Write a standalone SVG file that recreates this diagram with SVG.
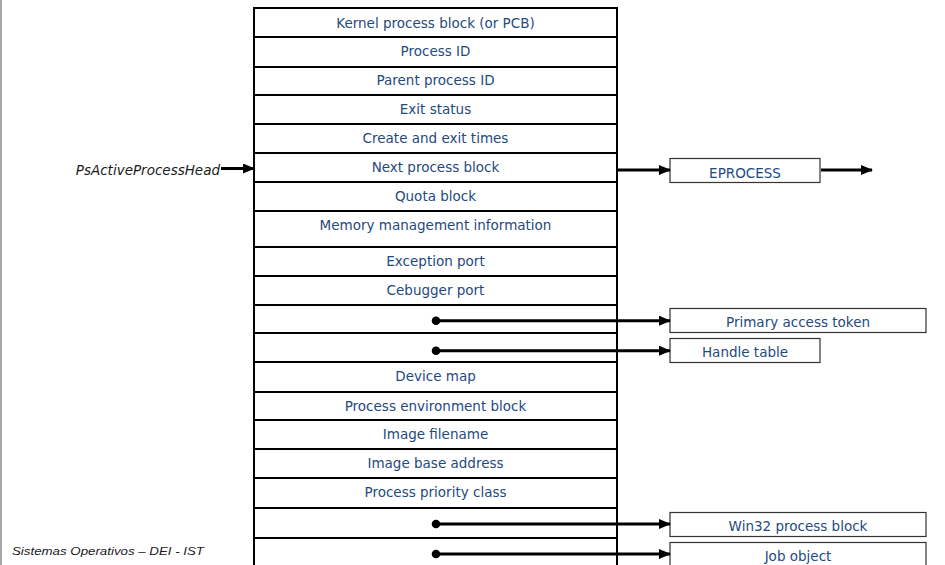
<svg xmlns="http://www.w3.org/2000/svg" width="945" height="565" viewBox="0 0 945 565">
  <defs>
    <marker id="arrow" markerUnits="userSpaceOnUse" markerWidth="12" markerHeight="10" refX="11" refY="5" orient="auto">
      <path d="M0,0 L12,5 L0,10 Z" fill="#000"/>
    </marker>
    <style>
      .row { fill: #fff; stroke: #000; stroke-width: 2; }
      .lbl { font-family: "DejaVu Sans", Verdana, sans-serif; font-size: 13.5px; fill: #1f4a7e; text-anchor: middle; }
      .box { fill: #fff; stroke: #333; stroke-width: 1.2; }
      .conn { stroke: #000; stroke-width: 3; fill: none; }
      .dot { fill: #000; }
      .side { stroke: #000; stroke-width: 2; fill: none; }
    </style>
  </defs>

  <rect width="945" height="565" fill="#fff"/>
  <!-- page margin rule -->
  <line x1="1" y1="0" x2="1" y2="565" stroke="#8a8a8a" stroke-width="1.5"/>

  <!-- EPROCESS structure: stacked fields -->
  <g id="eprocess-table">
    <g id="f-kernel"><rect class="row" x="254" y="8" width="363" height="29"/><text class="lbl" x="435.5" y="27.5">Kernel process block (or PCB)</text></g>
    <g id="f-pid"><rect class="row" x="254" y="37" width="363" height="30"/><text class="lbl" x="435.5" y="56">Process ID</text></g>
    <g id="f-ppid"><rect class="row" x="254" y="67" width="363" height="28"/><text class="lbl" x="435.5" y="84.5">Parent process ID</text></g>
    <g id="f-exit"><rect class="row" x="254" y="95" width="363" height="29"/><text class="lbl" x="435.5" y="113.5">Exit status</text></g>
    <g id="f-times"><rect class="row" x="254" y="124" width="363" height="29"/><text class="lbl" x="435.5" y="142.5">Create and exit times</text></g>
    <g id="f-next"><rect class="row" x="254" y="153" width="363" height="29"/><text class="lbl" x="435.5" y="171.5">Next process block</text></g>
    <g id="f-quota"><rect class="row" x="254" y="182" width="363" height="29"/><text class="lbl" x="435.5" y="200.5">Quota block</text></g>
    <g id="f-mm"><rect class="row" x="254" y="211" width="363" height="36"/><text class="lbl" x="435.5" y="229.5">Memory management information</text></g>
    <g id="f-exc"><rect class="row" x="254" y="247" width="363" height="29"/><text class="lbl" x="435.5" y="265.5">Exception port</text></g>
    <g id="f-dbg"><rect class="row" x="254" y="276" width="363" height="29"/><text class="lbl" x="435.5" y="294.5">Cebugger port</text></g>
    <g id="f-token"><rect class="row" x="254" y="305" width="363" height="28"/></g>
    <g id="f-handles"><rect class="row" x="254" y="333" width="363" height="29"/></g>
    <g id="f-devmap"><rect class="row" x="254" y="362" width="363" height="30"/><text class="lbl" x="435.5" y="380.5">Device map</text></g>
    <g id="f-peb"><rect class="row" x="254" y="392" width="363" height="28"/><text class="lbl" x="435.5" y="410.5">Process environment block</text></g>
    <g id="f-imgname"><rect class="row" x="254" y="420" width="363" height="29"/><text class="lbl" x="435.5" y="438.5">Image filename</text></g>
    <g id="f-imgbase"><rect class="row" x="254" y="449" width="363" height="29"/><text class="lbl" x="435.5" y="467.5">Image base address</text></g>
    <g id="f-prio"><rect class="row" x="254" y="478" width="363" height="30"/><text class="lbl" x="435.5" y="496.5">Process priority class</text></g>
    <g id="f-win32"><rect class="row" x="254" y="508" width="363" height="30"/></g>
    <g id="f-job"><rect class="row" x="254" y="538" width="363" height="40"/></g>
    <line class="side" x1="254" y1="7" x2="254" y2="565"/>
    <line class="side" x1="617" y1="7" x2="617" y2="565"/>
  </g>

  <!-- list head label -->
  <g id="ps-head">
    <text x="220" y="175" font-family="DejaVu Sans, Verdana, sans-serif" font-size="13.5" font-style="italic" fill="#1a1a1a" text-anchor="end">PsActiveProcessHead</text>
  </g>

  <!-- linked structures -->
  <g id="n-eprocess"><rect class="box" x="670" y="158.5" width="150" height="24"/><text class="lbl" x="745" y="177.5">EPROCESS</text></g>
  <g id="n-token"><rect class="box" x="670" y="308.5" width="256" height="24"/><text class="lbl" x="798" y="326.5">Primary access token</text></g>
  <g id="n-handles"><rect class="box" x="670" y="338.5" width="150" height="24"/><text class="lbl" x="745" y="356.5">Handle table</text></g>
  <g id="n-win32"><rect class="box" x="670" y="512.5" width="256" height="24"/><text class="lbl" x="798" y="531">Win32 process block</text></g>
  <g id="n-job"><rect class="box" x="670" y="542.5" width="256" height="30"/><text class="lbl" x="798" y="561">Job object</text></g>

  <!-- pointers -->
  <g id="connectors">
    <line class="conn" x1="221" y1="168.5" x2="254" y2="168.5" marker-end="url(#arrow)"/>
    <line class="conn" x1="618" y1="170" x2="670" y2="170" marker-end="url(#arrow)"/>
    <line class="conn" x1="821" y1="170" x2="872" y2="170" marker-end="url(#arrow)"/>
    <circle class="dot" cx="436" cy="320.7" r="4.3"/>
    <line class="conn" x1="436" y1="320.7" x2="670" y2="320.7" marker-end="url(#arrow)"/>
    <circle class="dot" cx="436" cy="350.7" r="4.3"/>
    <line class="conn" x1="436" y1="350.7" x2="670" y2="350.7" marker-end="url(#arrow)"/>
    <circle class="dot" cx="436" cy="524" r="4.3"/>
    <line class="conn" x1="436" y1="524" x2="670" y2="524" marker-end="url(#arrow)"/>
    <circle class="dot" cx="436" cy="554" r="4.3"/>
    <line class="conn" x1="436" y1="554" x2="670" y2="554" marker-end="url(#arrow)"/>
  </g>

  <!-- footer -->
  <text x="12" y="555" font-family="Liberation Sans, Arial, sans-serif" font-size="11.5" font-style="italic" fill="#1a1a1a" textLength="192" lengthAdjust="spacingAndGlyphs">Sistemas Operativos – DEI - IST</text>
</svg>
